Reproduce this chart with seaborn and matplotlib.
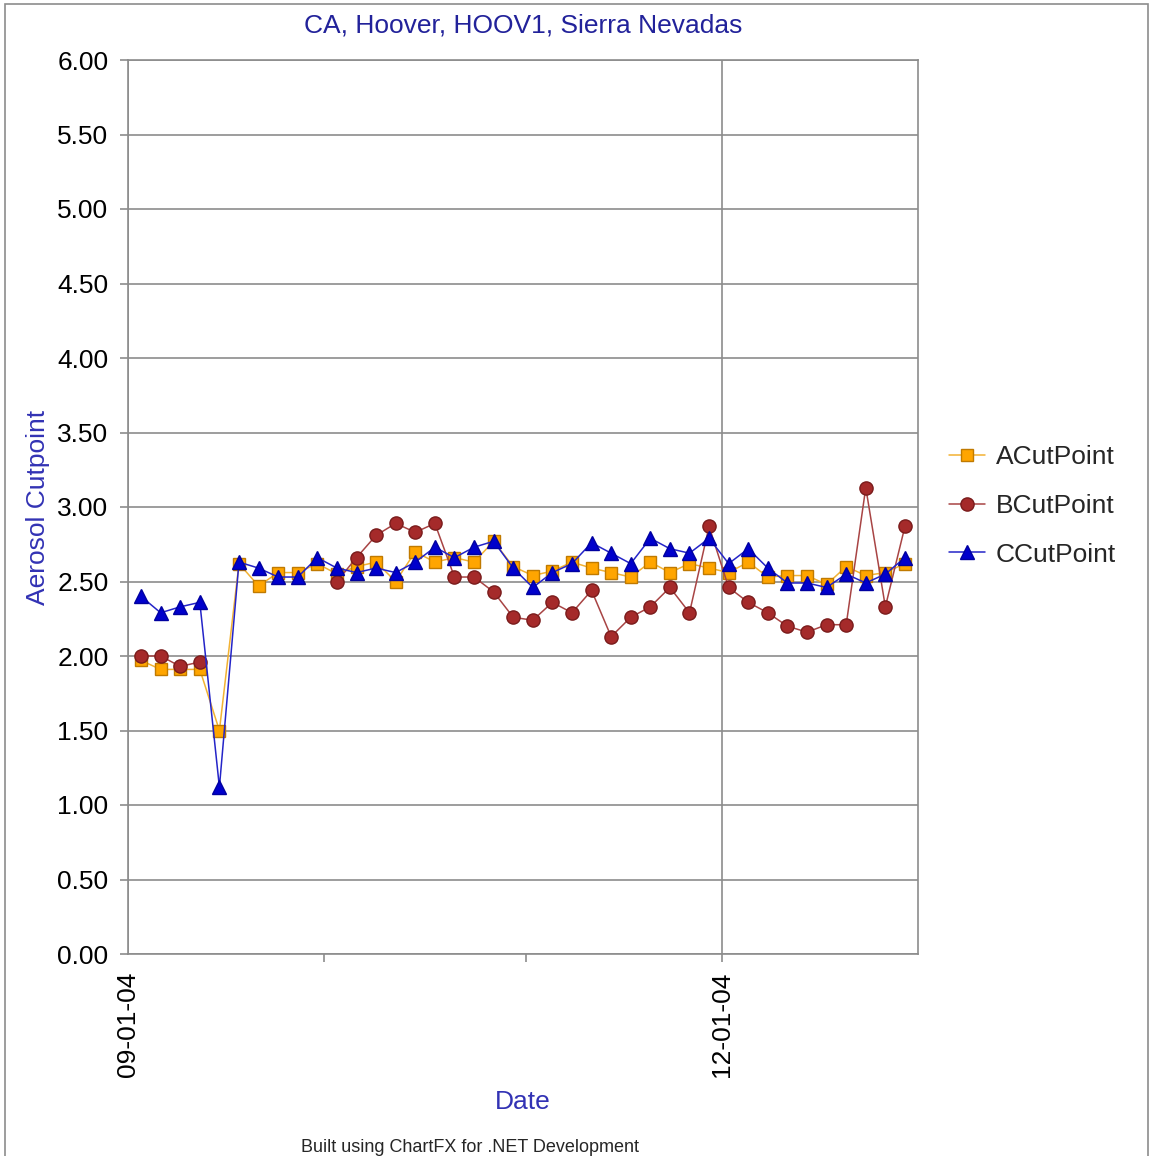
import numpy as np
import pandas as pd
import matplotlib
matplotlib.use("Agg")
import matplotlib.pyplot as plt
import matplotlib.dates as mdates
from matplotlib.ticker import FixedLocator
from matplotlib.patches import Rectangle
import seaborn as sns

# Sampling dates (every third day through the fall of 2004)
dates = pd.date_range("2004-09-03", periods=40, freq="3D")

a_cut = [1.97, 1.91, 1.91, 1.91, 1.50, 2.62, 2.47, 2.56, 2.56, 2.62,
         2.55, 2.60, 2.63, 2.50, 2.70, 2.63, 2.66, 2.63, 2.77, 2.60,
         2.54, 2.57, 2.63, 2.59, 2.56, 2.53, 2.63, 2.56, 2.62, 2.59,
         2.56, 2.63, 2.53, 2.54, 2.54, 2.48, 2.60, 2.54, 2.56, 2.62]
b_cut = [2.00, 2.00, 1.93, 1.96, np.nan, np.nan, np.nan, np.nan, np.nan, np.nan,
         2.50, 2.66, 2.81, 2.89, 2.83, 2.89, 2.53, 2.53, 2.43, 2.26,
         2.24, 2.36, 2.29, 2.44, 2.13, 2.26, 2.33, 2.46, 2.29, 2.87,
         2.46, 2.36, 2.29, 2.20, 2.16, 2.21, 2.21, 3.13, 2.33, 2.87]
c_cut = [2.40, 2.29, 2.33, 2.36, 1.12, 2.63, 2.59, 2.53, 2.53, 2.66,
         2.59, 2.56, 2.59, 2.56, 2.63, 2.73, 2.66, 2.73, 2.77, 2.59,
         2.46, 2.56, 2.62, 2.76, 2.69, 2.62, 2.79, 2.72, 2.69, 2.79,
         2.62, 2.72, 2.59, 2.49, 2.49, 2.46, 2.55, 2.49, 2.55, 2.66]

series_names = ["ACutPoint", "BCutPoint", "CCutPoint"]
series_vals = [a_cut, b_cut, c_cut]

# look of each series: line color, marker, face, edge, size
styles = {
    "ACutPoint": dict(color="#f2b233", marker="s", mfc="#ffa500", mec="#c07a00", ms=8.8),
    "BCutPoint": dict(color="#a84444", marker="o", mfc="#a52a2a", mec="#7a1c1c", ms=9.5),
    "CCutPoint": dict(color="#2424c8", marker="^", mfc="#0000cc", mec="#0000a0", ms=10),
}

sns.set_style("white")
plt.rcParams["font.family"] = ["Liberation Sans", "DejaVu Sans"]

fig = plt.figure(figsize=(11.51, 11.56), dpi=100)
ax = fig.add_axes([128 / 1151, 1 - 954 / 1156, 790 / 1151, 894 / 1156])

for name, vals in zip(series_names, series_vals):
    df = pd.DataFrame({"date": dates, "value": vals})
    # split the series where readings are missing so the line breaks there
    df["seg"] = df["value"].isna().cumsum()
    df = df.dropna()
    st = styles[name]
    sns.lineplot(data=df, x="date", y="value", units="seg", estimator=None,
                 ax=ax, color=st["color"], linewidth=1.1, marker=st["marker"],
                 markersize=st["ms"], markerfacecolor=st["mfc"],
                 markeredgecolor=st["mec"], markeredgewidth=1.0, label=name)

# axes limits and ticks
ax.set_ylim(0, 6)
ax.set_yticks(np.arange(0, 6.01, 0.5))
ax.set_yticklabels([f"{v:.2f}" for v in np.arange(0, 6.01, 0.5)])
ax.set_xlim(pd.Timestamp("2004-09-01"), pd.Timestamp("2004-12-31"))
ax.xaxis.set_major_locator(FixedLocator(
    mdates.date2num([pd.Timestamp("2004-09-01"), pd.Timestamp("2004-12-01")])))
ax.xaxis.set_minor_locator(FixedLocator(
    mdates.date2num([pd.Timestamp("2004-10-01"), pd.Timestamp("2004-11-01")])))
ax.xaxis.set_major_formatter(mdates.DateFormatter("%m-%d-%y"))
plt.setp(ax.get_xticklabels(), rotation=90, ha="center", va="top")

ax.grid(True, which="major", color="#8c8c8c", linewidth=1.2)
ax.set_axisbelow(True)
for sp in ax.spines.values():
    sp.set_color("#8c8c8c")
    sp.set_linewidth(1.2)

ax.tick_params(axis="both", which="both", direction="out", color="#8c8c8c",
               width=1.2, labelsize=19, labelcolor="black")
ax.tick_params(axis="y", left=True, length=6, pad=8)
ax.tick_params(axis="x", which="both", bottom=True, length=6, pad=7)
# no tick mark under the left corner
ax.xaxis.get_major_ticks()[0].tick1line.set_visible(False)

# labels
ax.set_title("CA, Hoover, HOOV1, Sierra Nevadas", fontsize=19, color="#22229a", pad=20)
ax.set_xlabel("Date", fontsize=19, color="#3232b4")
ax.set_ylabel("Aerosol Cutpoint", fontsize=19, color="#3232b4")
ax.xaxis.set_label_coords(0.5, -0.152)
ax.yaxis.set_label_coords(-0.099, 0.5)

# legend outside on the right, one entry per series
handles, labels = ax.get_legend_handles_labels()
uniq = dict(zip(labels, handles))
if ax.get_legend() is not None:
    ax.get_legend().remove()
fig.legend([uniq[n] for n in series_names], series_names, loc="center left",
           bbox_to_anchor=(949 / 1151, 1 - 506 / 1156), frameon=False,
           fontsize=19, handlelength=1.35, handletextpad=0.42,
           labelspacing=0.93, borderpad=0, borderaxespad=0)

fig.text(470 / 1151, 1 - 1147 / 1156, "Built using ChartFX for .NET Development",
         fontsize=13, ha="center", va="center")

# thin frame round the whole picture
fig.patches.append(Rectangle((5 / 1151, -0.01), 1143 / 1151, 1 - 4 / 1156 + 0.01,
                             transform=fig.transFigure, fill=False,
                             edgecolor="#8c8c8c", linewidth=1.2))

fig.savefig("out.png", dpi=100)
